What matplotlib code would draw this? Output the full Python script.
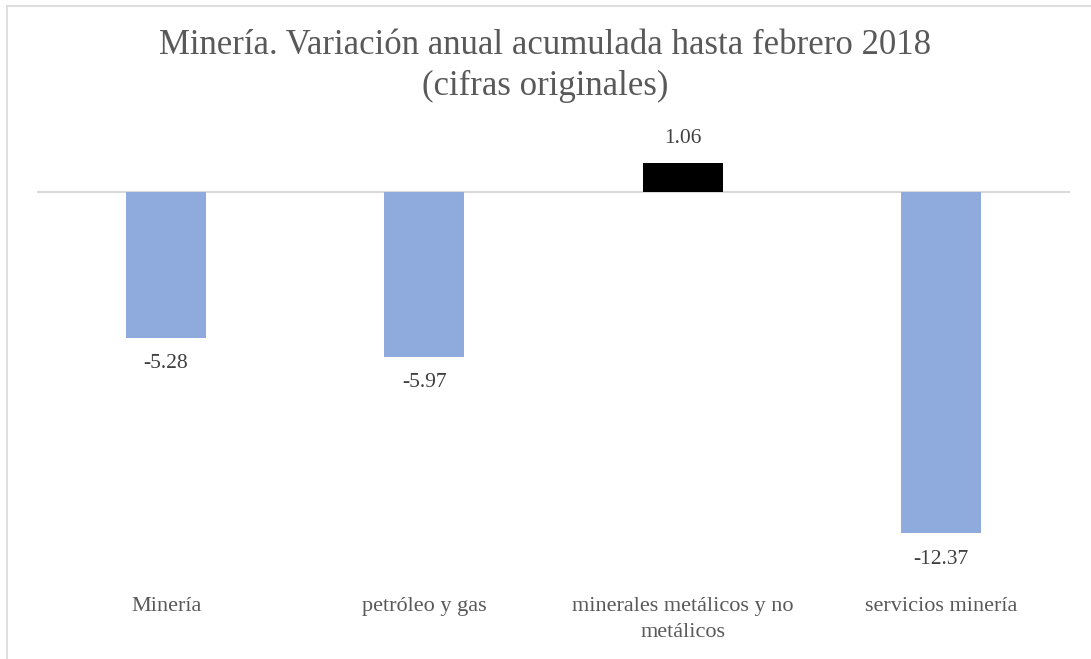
import matplotlib
matplotlib.use("Agg")
import matplotlib.pyplot as plt
import matplotlib.transforms as mtransforms
from matplotlib.lines import Line2D

categories = ["Minería", "petróleo y gas", "minerales metálicos y no\nmetálicos", "servicios minería"]
values = [-5.28, -5.97, 1.06, -12.37]
colors = ["#8FAADC", "#8FAADC", "#000000", "#8FAADC"]
title_lines = ["Minería. Variación anual acumulada hasta febrero 2018", "(cifras originales)"]

plt.rcParams['font.family'] = ['Liberation Serif', 'DejaVu Serif']

W, H = 1091, 659
fig = plt.figure(figsize=(W / 100, H / 100), dpi=100)

# axes: x from 37 to 1070 px, zero line at 192 px
ax = fig.add_axes([37 / W, (H - 578) / H, (1070 - 37) / W, 441 / H])
x = list(range(len(categories)))
ax.bar(x, values, width=0.31, color=colors, zorder=3)
ax.set_xlim(-0.5, len(categories) - 0.5)
ax.set_ylim(-14, 2)
ax.axhline(0, color="#D9D9D9", lw=1.5, zorder=2)
for s in ax.spines.values():
    s.set_visible(False)
ax.set_xticks([])
ax.set_yticks([])

for xi, v in zip(x, values):
    off = 24 if v >= 0 else -26
    ax.annotate(f"{v:.2f}", (xi, v), xytext=(0, off * 0.72), textcoords="offset points",
                ha="center", va="center", fontsize=15.5, color="#404040")

# category labels
trans = mtransforms.blended_transform_factory(ax.transData, fig.transFigure)
for xi, c in zip(x, categories):
    ax.text(xi, 1 - 597 / H, c, transform=trans, ha="center", va="top",
            fontsize=16, color="#595959", linespacing=1.5)

fig.text(0.5, 1 - 45 / H, title_lines[0], ha="center", va="center", fontsize=25, color="#595959")
fig.text(0.5, 1 - 86 / H, title_lines[1], ha="center", va="center", fontsize=25, color="#595959")

# chart border (left and top)
fig.add_artist(Line2D([7 / W, 7 / W], [0, 1 - 6 / H], transform=fig.transFigure, color="#D9D9D9", lw=1.2))
fig.add_artist(Line2D([7 / W, 1], [1 - 6 / H, 1 - 6 / H], transform=fig.transFigure, color="#D9D9D9", lw=1.2))

fig.savefig("out.png", dpi=100, facecolor="white")
